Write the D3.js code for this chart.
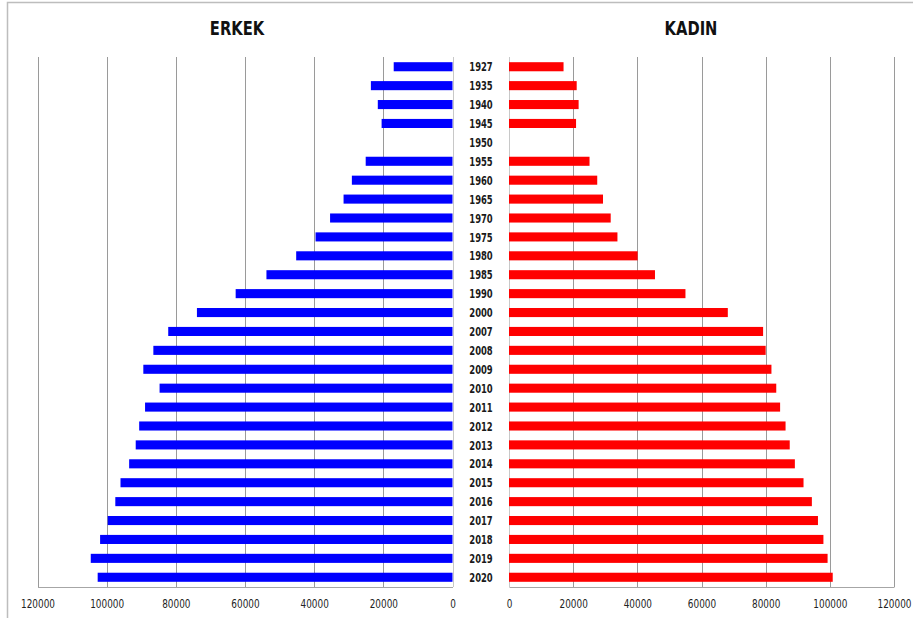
<!DOCTYPE html>
<html>
<head>
<meta charset="utf-8">
<script src="https://cdn.jsdelivr.net/npm/d3@7"></script>
<style>
  body { margin: 0; background: #fff; }
  svg text { font-family: "Liberation Sans Narrow", "DejaVu Sans Condensed", Arial, sans-serif; }
</style>
</head>
<body>
<div id="chart"></div>
<script>
// years shown down the middle
const years = ["1927", "1935", "1940", "1945", "1950", "1955", "1960", "1965", "1970", "1975",
  "1980", "1985", "1990", "2000", "2007", "2008", "2009", "2010", "2011", "2012",
  "2013", "2014", "2015", "2016", "2017", "2018", "2019", "2020"];

// ERKEK (male) values, null = no data
const erkek = [17000, 23600, 21600, 20500, null, 25100, 29100, 31500, 35400, 39600,
  45200, 53800, 62700, 73900, 82200, 86500, 89400, 84700, 88900, 90600,
  91600, 93500, 96000, 97500, 99700, 101900, 104600, 102600];

// KADIN (female) values
const kadin = [17000, 21100, 21700, 20900, null, 25100, 27500, 29300, 31700, 33800,
  40100, 45500, 55000, 68200, 79200, 80000, 81800, 83300, 84500, 86200,
  87500, 89100, 91800, 94400, 96300, 98000, 99300, 100900];

const tickVals = [0, 20000, 40000, 60000, 80000, 100000, 120000];

const width = 913, height = 618;
const plotTop = 57, plotBottom = 587;

const svg = d3.select("#chart").append("svg")
  .attr("width", width)
  .attr("height", height);

// outer frame
svg.append("rect")
  .attr("x", 7.5).attr("y", 2.5)
  .attr("width", 940).attr("height", 640)
  .attr("fill", "none")
  .attr("stroke", "#bdbdbd")
  .attr("stroke-width", 1.5);

const y = d3.scaleBand().domain(years).range([plotTop, plotBottom])
  .paddingInner(0.52).paddingOuter(0.275);

const xLeft = d3.scaleLinear().domain([0, 120000]).range([452.5, 37.5]);
const xRight = d3.scaleLinear().domain([0, 120000]).range([509, 894]);

function drawSide(x, values, color, title, titleX) {
  const g = svg.append("g");

  // gridlines
  g.selectAll(".grid")
    .data(tickVals.slice(1))
    .enter().append("line")
    .attr("x1", d => Math.round(x(d)) + 0.5)
    .attr("x2", d => Math.round(x(d)) + 0.5)
    .attr("y1", plotTop).attr("y2", plotBottom)
    .attr("stroke", "#9a9a9a");

  // zero line
  g.append("line")
    .attr("x1", Math.round(x(0)) + 0.5).attr("x2", Math.round(x(0)) + 0.5)
    .attr("y1", plotTop).attr("y2", plotBottom)
    .attr("stroke", "#c8c8c8");

  // bars
  g.selectAll(".bar")
    .data(years.map((yr, i) => ({ yr, v: values[i] })).filter(d => d.v != null))
    .enter().append("rect")
    .attr("x", d => Math.min(x(0), x(d.v)))
    .attr("width", d => Math.abs(x(d.v) - x(0)))
    .attr("y", d => y(d.yr))
    .attr("height", y.bandwidth())
    .attr("fill", color);

  // bottom axis
  const axis = g.append("g")
    .attr("transform", `translate(0,${plotBottom})`)
    .call(d3.axisBottom(x).tickValues(tickVals).tickFormat(d3.format("d")).tickSize(0).tickPadding(13));
  axis.select(".domain").attr("stroke", "#a6a6a6");
  axis.selectAll("text")
    .attr("font-size", "11.5px")
    .attr("fill", "#222")
    .attr("transform", "scale(0.86,1)")  // squeeze to look like the narrow original font
    .style("font-family", "'Liberation Sans Narrow', 'DejaVu Sans Condensed', Arial, sans-serif");

  // title
  svg.append("text")
    .attr("transform", `translate(${titleX},35) scale(0.84,1)`)
    .attr("text-anchor", "middle")
    .attr("font-size", "19.5px")
    .attr("font-weight", "bold")
    .attr("fill", "#111")
    .text(title);
}

drawSide(xLeft, erkek, "#0000ff", "ERKEK", 237);
drawSide(xRight, kadin, "#ff0000", "KADIN", 691);

// year labels
svg.selectAll(".yr")
  .data(years)
  .enter().append("text")
  .attr("transform", d => `translate(481,${y(d) + y.bandwidth() / 2 + 4.6}) scale(0.75,1)`)
  .attr("text-anchor", "middle")
  .attr("font-size", "12.5px")
  .attr("font-weight", "bold")
  .attr("fill", "#1a1a1a")
  .text(d => d);
</script>
</body>
</html>
